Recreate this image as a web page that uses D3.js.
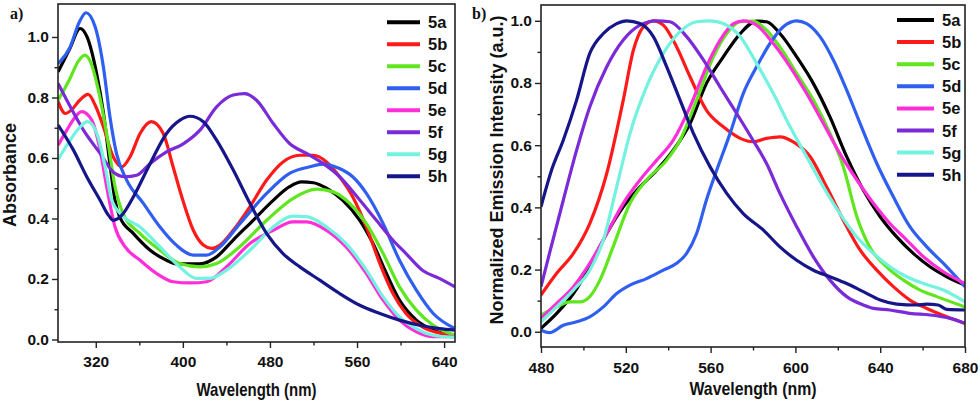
<!DOCTYPE html>
<html><head><meta charset="utf-8">
<script src="https://cdn.jsdelivr.net/npm/d3@7/dist/d3.min.js"></script>
<style>
html,body{margin:0;padding:0;background:#fff;}
svg text{font-family:"Liberation Sans",Arial,sans-serif;font-weight:bold;fill:#111;}
svg text.tag{font-family:"Liberation Serif","Times New Roman",serif;}
</style></head>
<body><svg id="c" width="980" height="403"></svg>
<script>
// ---------- DATA ----------
const seriesNames = ["5a","5b","5c","5d","5e","5f","5g","5h"];
const seriesColors = ["#000000","#ff1a1a","#5fe61e","#2f5ff0","#ff2ed8","#7a2ad6","#74f2e0","#16168a"];

// Panel a) absorbance: [wavelength nm, absorbance]
const abs5a = [[285.4,0.885],[296,0.96],[305.6,1.028],[312,1.0],[321,0.875],[327,0.75],[333,0.58],[337.7,0.46],[342,0.405],[354.6,0.35],[370,0.295],[385,0.262],[394,0.25],[415.7,0.25],[431,0.273],[446,0.328],[464.6,0.394],[483,0.46],[498,0.505],[509,0.521],[520,0.518],[532,0.5],[547,0.46],[562.5,0.394],[574.7,0.317],[587,0.218],[599,0.13],[614.5,0.064],[630,0.031],[650,0.014]];
const abs5b = [[285.4,0.786],[292,0.747],[298,0.76],[305,0.79],[313,0.81],[320,0.77],[327,0.703],[336,0.604],[344,0.571],[351.5,0.604],[360.7,0.681],[371,0.72],[382,0.681],[391,0.571],[400,0.46],[409.6,0.361],[418.8,0.312],[426.4,0.301],[434,0.312],[446.3,0.361],[461.6,0.439],[477,0.527],[492,0.587],[507.5,0.609],[520,0.609],[532,0.587],[544,0.538],[556,0.472],[568.6,0.372],[581,0.251],[593,0.152],[605,0.086],[620,0.042],[635,0.022],[650,0.014]];
const abs5c = [[285.4,0.791],[296,0.86],[304,0.92],[310,0.94],[316,0.91],[321,0.846],[330,0.681],[337.7,0.505],[345,0.417],[360.7,0.35],[379,0.295],[397,0.251],[415.7,0.24],[431,0.251],[452,0.306],[477,0.394],[501,0.466],[523,0.497],[538,0.488],[553.3,0.45],[568.6,0.383],[584,0.284],[599,0.174],[614.5,0.097],[630,0.047],[650,0.014]];
const abs5d = [[285.4,0.912],[296.5,0.967],[305,1.05],[311,1.08],[319.4,1.034],[327,0.901],[333,0.736],[339,0.615],[348.4,0.527],[363.7,0.45],[379,0.372],[394,0.312],[409.6,0.279],[421.8,0.279],[434,0.306],[452.4,0.383],[477,0.483],[498,0.549],[516.6,0.571],[528.8,0.58],[544,0.565],[556,0.538],[568.6,0.483],[584,0.383],[599,0.262],[614.5,0.163],[630,0.086],[650,0.036]];
const abs5e = [[285.4,0.642],[293.4,0.692],[300,0.73],[307,0.753],[316.3,0.725],[324,0.626],[330,0.505],[337.7,0.372],[347,0.306],[360.7,0.262],[376,0.218],[391,0.191],[406.5,0.187],[422,0.191],[440,0.24],[461.6,0.317],[483,0.361],[501,0.389],[513.6,0.389],[532,0.361],[550,0.306],[568.6,0.218],[584,0.13],[599,0.064],[614.5,0.025],[630,0.009],[650,0.009]];
const abs5f = [[285.4,0.846],[293.4,0.791],[308.7,0.692],[324,0.615],[336,0.554],[347,0.538],[357.6,0.543],[370,0.582],[385,0.62],[400,0.646],[415.7,0.692],[431,0.769],[446.3,0.808],[457,0.813],[467.7,0.791],[483,0.714],[498,0.648],[513.6,0.615],[528.8,0.582],[544,0.538],[562.5,0.461],[577.8,0.394],[593,0.328],[605,0.284],[620,0.229],[635.6,0.202],[650,0.174]];
const abs5g = [[285.4,0.595],[296.5,0.659],[305,0.7],[312.4,0.72],[321,0.681],[328.6,0.571],[334.7,0.46],[343.9,0.411],[360.7,0.372],[379,0.306],[397,0.24],[412.7,0.202],[425,0.202],[440,0.229],[461.6,0.295],[483,0.372],[501,0.408],[513.6,0.406],[532,0.372],[550,0.317],[568.6,0.229],[584,0.141],[599,0.075],[614.5,0.036],[630,0.014],[650,0.007]];
const abs5h = [[285.4,0.709],[299.5,0.626],[311.7,0.538],[324,0.46],[331.6,0.411],[336,0.394],[344,0.411],[354.6,0.472],[370,0.582],[385,0.681],[397.4,0.725],[406.5,0.738],[418.8,0.72],[431,0.659],[446.3,0.56],[461.6,0.45],[477,0.35],[492,0.284],[507.5,0.24],[525.8,0.196],[544,0.152],[562.5,0.113],[581,0.086],[599,0.064],[617.4,0.047],[635.6,0.036],[650,0.031]];

// Panel b) normalized emission: [wavelength nm, intensity]
const em5a = [[480,0.011],[487.4,0.059],[495.3,0.123],[503,0.209],[511,0.316],[518.8,0.402],[526.7,0.466],[534.6,0.52],[542.4,0.584],[550.3,0.67],[558,0.798],[566,0.884],[574,0.959],[581.7,0.999],[586.4,0.997],[592.7,0.959],[600.6,0.884],[608.5,0.798],[616.3,0.691],[624.2,0.563],[632,0.456],[640,0.37],[647.8,0.305],[655.6,0.252],[663.5,0.209],[671.4,0.177],[680,0.15]];
const em5b = [[480,0.118],[487.4,0.188],[495.3,0.252],[503,0.348],[511,0.509],[518.8,0.745],[523.6,0.906],[528.3,0.981],[533,1.0],[537.7,0.986],[544,0.916],[550.3,0.82],[558,0.713],[566,0.659],[574,0.622],[580,0.611],[586.4,0.622],[592.7,0.627],[599,0.611],[607,0.563],[614.7,0.466],[622.6,0.359],[630.5,0.263],[638.4,0.198],[646.2,0.145],[654,0.102],[662,0.075],[671.4,0.048],[680,0.027]];
const em5c = [[480,0.054],[487.4,0.08],[493.7,0.096],[498.4,0.096],[503,0.113],[507.8,0.166],[514,0.273],[522,0.413],[529.8,0.488],[539.3,0.552],[545.6,0.616],[553.4,0.745],[561.3,0.884],[567.6,0.959],[574,0.997],[580,0.999],[586.4,0.97],[592.7,0.916],[600.6,0.831],[608.5,0.745],[616.3,0.638],[622.6,0.531],[629,0.37],[635,0.273],[643,0.209],[651,0.166],[658.8,0.134],[666.7,0.113],[680,0.08]];
const em5d = [[480,0.005],[484,-0.003],[490.5,0.021],[496.8,0.032],[503,0.048],[509.4,0.08],[515.7,0.123],[522,0.15],[529.8,0.171],[537.7,0.198],[544,0.22],[548.7,0.252],[553.4,0.316],[558,0.423],[562.9,0.52],[569.2,0.638],[575.4,0.766],[581.7,0.852],[588,0.927],[594.3,0.981],[600.6,1.0],[605.3,0.991],[611.6,0.949],[617.9,0.874],[624.2,0.777],[630.5,0.67],[638.4,0.541],[646.2,0.434],[654,0.338],[662,0.273],[671.4,0.209],[680,0.145]];
const em5e = [[480,0.043],[487.4,0.091],[495.3,0.145],[503,0.22],[511,0.316],[518.8,0.413],[526.7,0.488],[534.6,0.552],[542.4,0.616],[550.3,0.723],[558,0.852],[564.5,0.938],[570.8,0.991],[575.5,1.0],[581.7,0.986],[589.6,0.927],[597.5,0.852],[605.3,0.766],[613.2,0.67],[621,0.573],[629,0.488],[636.8,0.413],[644.6,0.348],[652.5,0.295],[660.4,0.241],[669.8,0.193],[680,0.155]];
const em5f = [[480,0.145],[484,0.252],[490.5,0.423],[496.8,0.584],[503,0.723],[511,0.852],[518.8,0.938],[526.7,0.986],[534.6,1.0],[540.8,0.997],[548.7,0.949],[556.6,0.874],[564.4,0.788],[572.3,0.702],[580,0.616],[586.4,0.541],[592.7,0.445],[600.6,0.338],[608.5,0.241],[616.3,0.166],[624.2,0.113],[632,0.086],[636.8,0.075],[644.6,0.07],[654,0.059],[663.5,0.054],[673,0.043],[680,0.027]];
const em5g = [[480,0.032],[487.4,0.08],[495.3,0.134],[503,0.198],[509.4,0.295],[515.7,0.466],[522,0.638],[529.8,0.788],[537.7,0.895],[545.6,0.965],[553.4,0.997],[559.7,1.0],[566,0.991],[574,0.949],[581.7,0.863],[589.6,0.766],[597.5,0.659],[605.3,0.563],[613.2,0.466],[621,0.38],[629,0.305],[636.8,0.252],[644.6,0.209],[652.5,0.177],[660.4,0.155],[669.8,0.134],[680,0.096]];
const em5h = [[480,0.402],[485,0.52],[490.5,0.616],[496.8,0.745],[503,0.895],[509.4,0.959],[515.7,0.991],[520.4,1.0],[526.7,0.991],[533,0.949],[539.3,0.852],[545.6,0.745],[551.9,0.638],[559.7,0.531],[567.6,0.445],[575.4,0.38],[584.9,0.327],[592.7,0.273],[600.6,0.23],[608.5,0.198],[616.3,0.177],[624.2,0.155],[632,0.129],[640,0.102],[647.8,0.089],[657.2,0.086],[662,0.089],[667.3,0.086],[671.4,0.072],[680,0.07]];

const absSeries = [abs5a,abs5b,abs5c,abs5d,abs5e,abs5f,abs5g,abs5h];
const emSeries = [em5a,em5b,em5c,em5d,em5e,em5f,em5g,em5h];

const absXTicks = [320,400,480,560,640];
const absXMinor = [360,440,520,600];
const absYTicks = [0,0.2,0.4,0.6,0.8,1.0];
const absYMinor = [0.1,0.3,0.5,0.7,0.9];
const emXTicks = [480,520,560,600,640,680];
const emXMinor = [500,540,580,620,660];
const emYTicks = [0,0.2,0.4,0.6,0.8,1.0];
const emYMinor = [0.1,0.3,0.5,0.7,0.9];

// ---------- DRAW ----------
const svg = d3.select("#c");
const fmt = d3.format(".1f");

function panel(o){
  const x = d3.scaleLinear().domain(o.xDomain).range([o.left,o.right]);
  const y = d3.scaleLinear().domain(o.yDomain).range([o.bottom,o.top]);
  const g = svg.append("g");
  const cid = "clip"+o.id;
  svg.append("clipPath").attr("id",cid).append("rect")
    .attr("x",o.left).attr("y",o.top).attr("width",o.right-o.left).attr("height",o.bottom-o.top);

  const line = d3.line().x(d=>x(d[0])).y(d=>y(d[1])).curve(d3.curveMonotoneX);
  const lg = g.append("g").attr("clip-path",`url(#${cid})`);
  o.series.forEach((s,i)=>{
    lg.append("path").attr("d",line(s)).attr("fill","none")
      .attr("stroke",seriesColors[i]).attr("stroke-width",3.2).attr("stroke-linejoin","round");
  });

  // axes
  const xa = g.append("g").attr("transform",`translate(0,${o.bottom})`)
    .call(d3.axisBottom(x).tickValues(o.xTicks).tickSize(6).tickPadding(6).tickFormat(d3.format("d")));
  g.append("g").attr("transform",`translate(0,${o.bottom})`)
    .call(d3.axisBottom(x).tickValues(o.xMinor).tickSize(3.5).tickFormat(""));
  g.append("g").attr("transform",`translate(${o.left},0)`)
    .call(d3.axisLeft(y).tickValues(o.yTicks).tickSize(6).tickPadding(3).tickFormat(fmt));
  g.append("g").attr("transform",`translate(${o.left},0)`)
    .call(d3.axisLeft(y).tickValues(o.yMinor).tickSize(3.5).tickFormat(""));
  g.selectAll(".domain").remove();
  g.selectAll(".tick line").attr("stroke","#222").attr("stroke-width",1.4);
  g.selectAll(".tick text").attr("font-size",15.5).attr("fill","#111");
  xa.selectAll(".tick text").attr("dy",null).attr("y",o.xLabelY-o.bottom);

  // frame
  g.append("rect").attr("x",o.left).attr("y",o.top).attr("width",o.right-o.left).attr("height",o.bottom-o.top)
    .attr("fill","none").attr("stroke","#222").attr("stroke-width",1.6);

  // titles
  g.append("text").attr("x",(o.left+o.right)/2).attr("y",o.xTitleY).attr("text-anchor","middle")
    .attr("font-size",18.5).attr("textLength",o.xTitleLen).attr("lengthAdjust","spacingAndGlyphs").text("Wavelength (nm)");
  g.append("text").attr("transform",`translate(${o.yTitleX},${o.yTitleCY}) rotate(-90)`).attr("text-anchor","middle")
    .attr("font-size",o.yTitleSize).text(o.yTitle);
  g.append("text").attr("class","tag").attr("x",o.tagX).attr("y",19).attr("font-size",16).text(o.tag);

  // legend
  const leg = g.append("g");
  seriesNames.forEach((n,i)=>{
    const yy = o.legY + i*o.legStep;
    leg.append("line").attr("x1",o.legX1).attr("x2",o.legX2).attr("y1",yy).attr("y2",yy)
      .attr("stroke",seriesColors[i]).attr("stroke-width",4);
    leg.append("text").attr("x",o.legTX).attr("y",yy+6).attr("font-size",16.5).text(n);
  });
}

panel({id:"a", series:absSeries, xDomain:[285.3,650], yDomain:[-0.0083,1.109],
  left:58, right:455, top:4, bottom:342,
  xTicks:absXTicks, xMinor:absXMinor, yTicks:absYTicks, yMinor:absYMinor,
  xLabelY:367, xTitleY:396, xTitleLen:120, yTitle:"Absorbance", yTitleX:16, yTitleCY:175, yTitleSize:18,
  tag:"a)", tagX:10, legX1:387, legX2:420, legTX:428, legY:22.3, legStep:22});

panel({id:"b", series:emSeries, xDomain:[480,680], yDomain:[-0.049,1.0508],
  left:541, right:965, top:5, bottom:347,
  xTicks:emXTicks, xMinor:emXMinor, yTicks:emYTicks, yMinor:emYMinor,
  xLabelY:373, xTitleY:395, xTitleLen:127, yTitle:"Normalized Emission Intensity (a.u.)", yTitleX:503, yTitleCY:170, yTitleSize:18,
  tag:"b)", tagX:472, legX1:897, legX2:934, legTX:942, legY:20, legStep:22.1});
</script></body></html>
